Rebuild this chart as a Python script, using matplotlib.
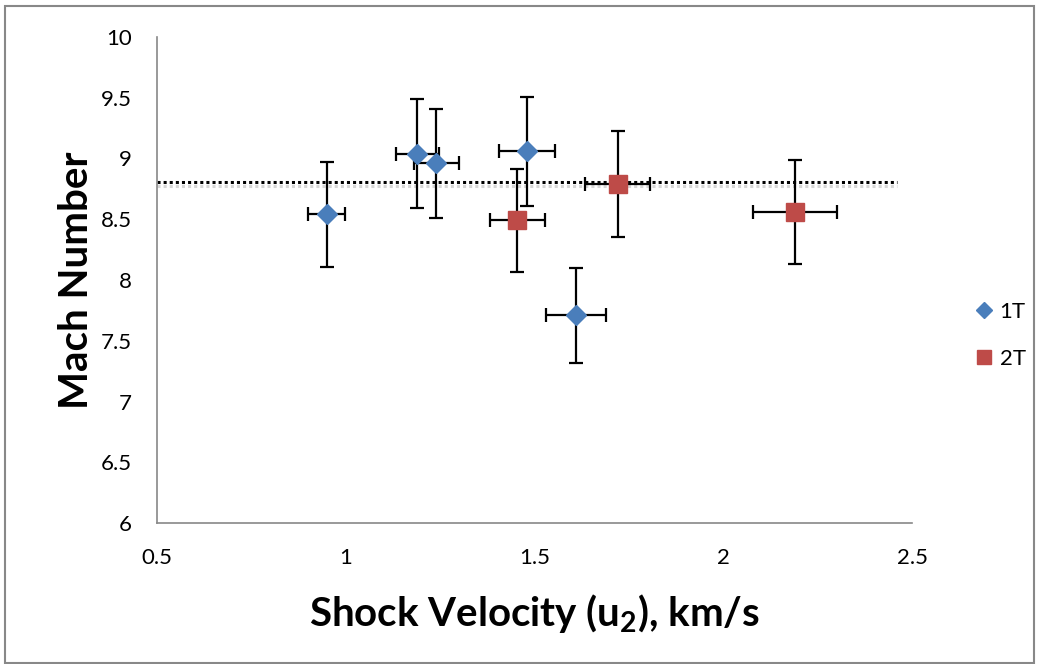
import matplotlib.pyplot as plt
import matplotlib.patheffects as pe
from matplotlib.patches import Rectangle

# 1T series
x_1t = [0.95, 1.19, 1.24, 1.48, 1.61]
y_1t = [8.54, 9.04, 8.96, 9.06, 7.71]
xerr_1t = [0.049, 0.058, 0.06, 0.075, 0.08]
yerr_1t = [0.43, 0.45, 0.45, 0.45, 0.39]

# 2T series
x_2t = [1.454, 1.72, 2.19]
y_2t = [8.49, 8.79, 8.56]
xerr_2t = [0.073, 0.086, 0.11]
yerr_2t = [0.42, 0.44, 0.43]

mean_mach = 8.81
line_x = [0.5, 2.46]

plt.rcParams['font.family'] = ['Lato', 'DejaVu Sans']
plt.rcParams['mathtext.fontset'] = 'custom'
plt.rcParams['mathtext.rm'] = 'Lato:bold'
plt.rcParams['mathtext.it'] = 'Lato:bold'
plt.rcParams['mathtext.bf'] = 'Lato:bold'

fig = plt.figure(figsize=(10.39, 6.64), dpi=100)
ax = fig.add_axes([0.1511, 0.2123, 0.7267, 0.732])

# dotted mean line with a soft shadow
ax.plot(line_x, [mean_mach, mean_mach], linestyle=(0, (1, 1)), color='black', lw=2.2,
        path_effects=[pe.SimpleLineShadow(offset=(0, -3), shadow_color='#bbbbbb', alpha=0.6), pe.Normal()],
        zorder=2)

ax.errorbar(x_1t, y_1t, xerr=xerr_1t, yerr=yerr_1t, fmt='D', color='#4a7ebb',
            markersize=10, ecolor='black', elinewidth=1.6, capsize=5, capthick=1.6,
            label='1T', zorder=3)
ax.errorbar(x_2t, y_2t, xerr=xerr_2t, yerr=yerr_2t, fmt='s', color='#be4b48',
            markersize=13, ecolor='black', elinewidth=1.6, capsize=5, capthick=1.6,
            label='2T', zorder=3)

ax.set_xlim(0.5, 2.5)
ax.set_ylim(6, 10)
ax.set_xticks([0.5, 1, 1.5, 2, 2.5])
ax.set_xticklabels(['0.5', '1', '1.5', '2', '2.5'])
ax.set_yticks([6, 6.5, 7, 7.5, 8, 8.5, 9, 9.5, 10])
ax.set_yticklabels(['6', '6.5', '7', '7.5', '8', '8.5', '9', '9.5', '10'])
ax.tick_params(labelsize=16, length=0)
ax.tick_params(axis='x', pad=18)
ax.tick_params(axis='y', pad=18)

for side in ['top', 'right']:
    ax.spines[side].set_visible(False)
for side in ['left', 'bottom']:
    ax.spines[side].set_color('#888888')
    ax.spines[side].set_linewidth(1.2)

ax.set_xlabel('Shock Velocity (u$_2$), km/s', fontsize=29, fontweight='bold', labelpad=17)
ax.set_ylabel('Mach Number', fontsize=29, fontweight='bold', labelpad=4)

handles, labels = ax.get_legend_handles_labels()
handles = [h[0] for h in handles]
fig.legend(handles, labels, loc='center left', bbox_to_anchor=(0.915, 0.495),
           frameon=False, fontsize=16, handletextpad=0.1, labelspacing=1.2,
           handlelength=1.2, markerscale=0.8)

# outer border of the chart area
fig.patches.append(Rectangle((0.005, 0.002), 0.99, 0.989, transform=fig.transFigure,
                             fill=False, edgecolor='#888888', lw=1.5))

plt.savefig('out.png')
